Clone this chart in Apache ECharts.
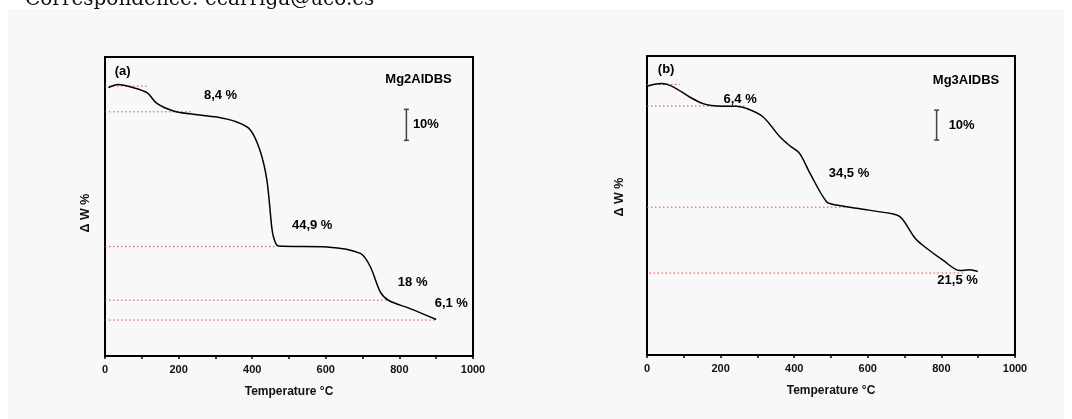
<!DOCTYPE html>
<html>
<head>
<meta charset="utf-8">
<script src="https://cdn.jsdelivr.net/npm/echarts@6/dist/echarts.min.js"></script>
<style>
html,body{margin:0;padding:0;background:#fff;}
#c{width:1072px;height:419px;}
</style>
</head>
<body>
<div id="c"></div>
<script>
// ---------- data ----------
const xTicks = [0, 200, 400, 600, 800, 1000];

// Panel (a) Mg2AlDBS
const tempA = [9, 36, 77, 115, 141, 186, 240, 304, 358, 394, 421, 440, 453, 458, 471, 603, 694, 721, 748, 770, 829, 900];
const wA    = [99.0, 100, 99.0, 97.3, 93.9, 91.5, 90.4, 89.5, 87.9, 85.5, 78.8, 69.1, 54.1, 50.8, 47.9, 47.6, 45.5, 41.2, 33.1, 30.4, 27.7, 24.2];
const levelsA   = [99.5, 91.2, 47.7, 30.4, 24.0];
const levelEndA = [118, 236, 467, 770, 900];
const labelsA = [
  ["(a)", 48, 104.1],
  ["Mg2AIDBS", 852, 101.7],
  ["8,4 %", 314, 96.5],
  ["10%", 872, 87.2],
  ["44,9 %", 563, 54.6],
  ["18 %", 836, 36.0],
  ["6,1 %", 941, 29.4]
];
const scaleBarA = [819, 92.0, 82.0];

// Panel (b) Mg3AlDBS
const tempB = [3, 39, 71, 116, 152, 189, 243, 270, 315, 361, 388, 415, 443, 488, 515, 569, 669, 692, 728, 751, 805, 850, 877, 899];
const wB    = [99.2, 100, 98.9, 95.5, 93.3, 92.5, 92.4, 91.7, 88.9, 82.2, 79.2, 76.6, 70.0, 60.5, 59.4, 58.3, 56.4, 55.0, 48.4, 45.8, 40.9, 37.5, 37.8, 37.2];
const levelsB     = [99.7, 92.5, 58.7, 36.7];
const levelStartB = [0, 0, 0, 7];
const levelEndB   = [89, 270, 542, 859];
const labelsB = [
  ["(b)", 52, 104.8],
  ["Mg3AIDBS", 867, 101.1],
  ["6,4 %", 253, 94.7],
  ["10%", 855, 85.9],
  ["34,5 %", 549, 70.0],
  ["21,5 %", 844, 34.1]
];
const scaleBarB = [787, 91.1, 81.1];

// ---------- chart ----------
const FONT = "'Liberation Sans', Arial, sans-serif";
const chart = echarts.init(document.getElementById('c'), null, {renderer: 'canvas'});

function xAxisDef(gi) {
  return {
    gridIndex: gi, type: 'value', min: 0, max: 1000, interval: 200,
    name: 'Temperature °C', nameLocation: 'middle', nameGap: 30,
    nameTextStyle: {fontFamily: FONT, fontWeight: 'bold', fontSize: 12, color: '#111'},
    axisLine: {show: true, onZero: false, lineStyle: {color: '#000', width: 2}},
    axisTick: {show: true, inside: false, length: 3, lineStyle: {color: '#000', width: 1.5}},
    minorTick: {show: true, splitNumber: 2, length: 3, lineStyle: {color: '#000', width: 1.5}},
    axisLabel: {fontFamily: FONT, fontWeight: 'bold', fontSize: 11, color: '#111', margin: 8,
      formatter: v => xTicks.indexOf(v) >= 0 ? String(v) : ''},
    splitLine: {show: false}
  };
}
function yAxisDef(gi, mn, mx) {
  return {
    gridIndex: gi, type: 'value', min: mn, max: mx,
    axisLine: {show: true, onZero: false, lineStyle: {color: '#000', width: 2}},
    axisTick: {show: false}, axisLabel: {show: false}, splitLine: {show: false}
  };
}
function curve(gi, xs, ys) {
  return {
    type: 'line', xAxisIndex: gi, yAxisIndex: gi, showSymbol: false, symbol: 'none',
    smooth: 0.3,
    data: xs.map((t, i) => [t, ys[i]]),
    lineStyle: {color: '#000', width: 1.5}, z: 5, silent: true
  };
}
function levelLines(gi, levels, starts, ends) {
  return levels.map((lv, i) => ({
    type: 'line', xAxisIndex: gi, yAxisIndex: gi, symbol: 'none',
    data: [[starts[i], lv], [ends[i], lv]],
    lineStyle: {color: '#e8413a', width: 1, type: [1.5, 2.5]}, z: 3, silent: true
  }));
}
function texts(gi, labels) {
  return {
    type: 'scatter', xAxisIndex: gi, yAxisIndex: gi, symbolSize: 0,
    data: labels.map(l => [l[1], l[2], l[0]]),
    itemStyle: {color: '#000', opacity: 1},
    label: {show: true, position: 'inside', formatter: p => p.data[2], opacity: 1,
      fontFamily: FONT, fontWeight: 'bold', fontSize: 13, color: '#000',
      textBorderWidth: 0, textBorderColor: 'transparent'},
    emphasis: {disabled: true},
    z: 6, silent: true
  };
}
function scaleBar(gi, sb) {
  return {
    type: 'line', xAxisIndex: gi, yAxisIndex: gi,
    data: [[sb[0], sb[1]], [sb[0], sb[2]]],
    symbol: 'rect', symbolSize: [5, 1.5], showSymbol: true,
    itemStyle: {color: '#444'}, lineStyle: {color: '#444', width: 1.5}, z: 4, silent: true
  };
}

const startsA = levelsA.map(() => 0);

chart.setOption({
  animation: false,
  backgroundColor: '#ffffff',
  graphic: [
    {type: 'rect', shape: {x: 8, y: 9, width: 1056, height: 410}, style: {fill: '#f8f8f8'}, z: -10},
    {type: 'text', x: 25, y: 10, style: {text: 'Correspondence: ecarriga@uco.es', fontFamily: "'DejaVu Serif', 'Liberation Serif', serif",
      fontSize: 20, fill: '#111', verticalAlign: 'bottom'}},
    {type: 'text', x: 86, y: 213, rotation: Math.PI / 2, style: {text: 'Δ W %', fontFamily: FONT, fontWeight: 'bold', fontSize: 12.5, fill: '#111', align: 'center', verticalAlign: 'middle'}},
    {type: 'text', x: 620, y: 197, rotation: Math.PI / 2, style: {text: 'Δ W %', fontFamily: FONT, fontWeight: 'bold', fontSize: 12.5, fill: '#111', align: 'center', verticalAlign: 'middle'}}
  ],
  grid: [
    {left: 105, top: 57, width: 368, height: 299, show: true, borderColor: '#000', borderWidth: 2, backgroundColor: 'transparent'},
    {left: 647, top: 56, width: 368, height: 299, show: true, borderColor: '#000', borderWidth: 2, backgroundColor: 'transparent'}
  ],
  xAxis: [xAxisDef(0), xAxisDef(1)],
  yAxis: [yAxisDef(0, 12.4, 108.9), yAxisDef(1, 9.3, 109.2)],
  series: [
    curve(0, tempA, wA),
    ...levelLines(0, levelsA, startsA, levelEndA),
    texts(0, labelsA),
    scaleBar(0, scaleBarA),
    curve(1, tempB, wB),
    ...levelLines(1, levelsB, levelStartB, levelEndB),
    texts(1, labelsB),
    scaleBar(1, scaleBarB)
  ]
});
</script>
</body>
</html>
